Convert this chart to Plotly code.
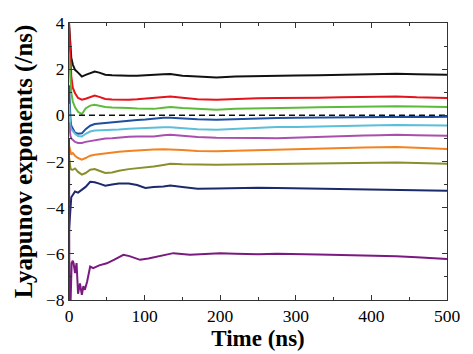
import plotly.graph_objects as go

# Time points (ns)
t = [0, 1, 2, 3, 5, 8, 12, 17, 22, 28, 34, 40, 48, 57, 66, 79, 90, 101, 112, 125, 134,
     150, 170, 195, 220, 250, 275, 300, 330, 360, 390, 411, 433, 460, 480, 500]

black = [4.0, 3.3, 2.8, 2.5, 2.2, 1.97, 1.85, 1.68, 1.75, 1.82, 1.9, 1.85, 1.76, 1.74, 1.72, 1.72, 1.71, 1.74, 1.76, 1.78, 1.79,
         1.72, 1.68, 1.64, 1.68, 1.71, 1.73, 1.73, 1.74, 1.76, 1.77, 1.78, 1.80, 1.78, 1.77, 1.76]
red = [4.0, 3.0, 2.2, 1.7, 1.2, 0.95, 0.75, 0.68, 0.72, 0.80, 0.86, 0.80, 0.71, 0.69, 0.68, 0.68, 0.70, 0.73, 0.75, 0.80, 0.82,
       0.76, 0.70, 0.68, 0.72, 0.74, 0.75, 0.74, 0.76, 0.78, 0.80, 0.81, 0.82, 0.78, 0.76, 0.75]
green = [2.6, 2.0, 1.4, 1.0, 0.6, 0.35, 0.15, 0.05, 0.30, 0.42, 0.46, 0.42, 0.36, 0.34, 0.32, 0.32, 0.30, 0.28, 0.28, 0.33, 0.36,
         0.32, 0.27, 0.24, 0.28, 0.31, 0.33, 0.33, 0.35, 0.37, 0.38, 0.39, 0.39, 0.38, 0.37, 0.36]
blue = [1.3, 0.2, -0.2, -0.45, -0.6, -0.75, -0.8, -0.78, -0.6, -0.45, -0.38, -0.36, -0.33, -0.31, -0.27, -0.22, -0.20, -0.18, -0.13, -0.10, -0.10,
        -0.14, -0.17, -0.19, -0.16, -0.14, -0.12, -0.11, -0.10, -0.08, -0.07, -0.06, -0.05, -0.06, -0.07, -0.06]
cyan = [0.5, -0.3, -0.5, -0.6, -0.7, -0.8, -0.9, -0.92, -0.8, -0.7, -0.66, -0.65, -0.66, -0.65, -0.61, -0.58, -0.56, -0.55, -0.53, -0.52, -0.52,
        -0.57, -0.60, -0.62, -0.58, -0.54, -0.51, -0.50, -0.49, -0.47, -0.45, -0.43, -0.42, -0.43, -0.44, -0.44]
magenta = [-0.3, -0.7, -0.9, -1.0, -1.06, -1.15, -1.2, -1.2, -1.15, -1.12, -1.08, -1.05, -1.0, -0.99, -0.96, -0.93, -0.92, -0.91, -0.92, -0.86, -0.84,
           -0.88, -0.94, -0.97, -0.96, -0.98, -0.99, -0.96, -0.93, -0.90, -0.87, -0.86, -0.84, -0.86, -0.87, -0.88]
orange = [-1.3, -1.5, -1.6, -1.7, -1.63, -1.75, -1.85, -1.92, -1.85, -1.75, -1.71, -1.68, -1.64, -1.61, -1.58, -1.55, -1.52, -1.49, -1.48, -1.47, -1.47,
          -1.50, -1.54, -1.56, -1.53, -1.50, -1.49, -1.48, -1.45, -1.42, -1.39, -1.38, -1.37, -1.40, -1.44, -1.46]
olive = [-1.8, -2.1, -2.3, -2.35, -2.36, -2.3, -2.45, -2.57, -2.5, -2.36, -2.33, -2.4, -2.5, -2.48, -2.4, -2.33, -2.3, -2.28, -2.22, -2.15, -2.1,
         -2.12, -2.14, -2.14, -2.13, -2.12, -2.11, -2.10, -2.08, -2.06, -2.05, -2.04, -2.04, -2.06, -2.08, -2.10]
navy = [-5.0, -4.3, -3.8, -3.55, -3.45, -3.3, -3.35, -3.22, -3.1, -2.88, -2.9, -2.96, -3.05, -3.0, -2.95, -2.95, -3.02, -3.15, -3.1, -3.08, -3.04,
        -3.1, -3.18, -3.17, -3.15, -3.14, -3.15, -3.16, -3.18, -3.2, -3.21, -3.22, -3.23, -3.24, -3.25, -3.27]

tp = [0, 0.5, 2, 3.5, 5, 6, 8, 10, 12, 14.5, 17, 19, 21, 24, 28, 32, 40, 50, 60, 72, 80, 94, 105, 116, 138,
      160, 180, 200, 220, 250, 275, 300, 330, 360, 390, 411, 433, 460, 480, 500]
purple = [-1.0, -8.2, -8.2, -6.4, -6.3, -6.4, -6.84, -6.4, -7.73, -7.28, -7.78, -7.4, -7.56, -7.2, -6.55, -6.62, -6.5, -6.41, -6.25, -6.04, -6.1, -6.26, -6.2, -6.12, -5.97,
          -6.04, -6.0, -5.98, -6.0, -6.02, -6.0, -6.0, -6.03, -6.05, -6.06, -6.07, -6.1, -6.15, -6.2, -6.22]

series = [
    (black, "#111111"), (red, "#e3141b"), (green, "#5dbb3a"), (blue, "#1f4e9f"),
    (cyan, "#5bbfd9"), (magenta, "#a94fb0"), (orange, "#f28322"), (olive, "#8a8f2c"),
    (navy, "#1b2a6a"),
]

fig = go.Figure()
for vals, col in series:
    fig.add_trace(go.Scatter(x=t, y=vals, mode="lines", line=dict(color=col, width=2), showlegend=False))
fig.add_trace(go.Scatter(x=tp, y=purple, mode="lines", line=dict(color="#7a1a80", width=2), showlegend=False))
fig.add_trace(go.Scatter(x=[0, 500], y=[0, 0], mode="lines",
                         line=dict(color="#111111", width=1.5, dash="6px,4px"), showlegend=False))

font = "Liberation Serif, Times New Roman, serif"
fig.update_layout(
    width=473, height=354,
    margin=dict(l=69, r=26, t=23, b=54),
    paper_bgcolor="white", plot_bgcolor="white",
    font=dict(family=font, size=17, color="black"),
)
fig.update_xaxes(
    range=[0, 500], dtick=100, tick0=0, ticks="inside", ticklen=5, tickwidth=1, tickcolor="#333",
    showline=True, linecolor="#333", linewidth=1, mirror="ticks", showgrid=False, zeroline=False,
    minor=dict(dtick=50, ticks="inside", ticklen=3, tickcolor="#333"),
    title=dict(text="<b>Time (ns)</b>", font=dict(size=23, family=font), standoff=1),
    tickfont=dict(size=17.5, family=font),
)
fig.update_yaxes(
    range=[-8, 4], dtick=2, tick0=0, ticks="inside", ticklen=5, tickwidth=1, tickcolor="#333",
    showline=True, linecolor="#333", linewidth=1, mirror="ticks", showgrid=False, zeroline=False,
    minor=dict(dtick=1, ticks="inside", ticklen=3, tickcolor="#333"),
    title=dict(text="<b>Lyapunov exponents (/ns)</b>", font=dict(size=25, family=font), standoff=6),
    tickfont=dict(size=17.5, family=font),
)
fig.write_html("out.html")
